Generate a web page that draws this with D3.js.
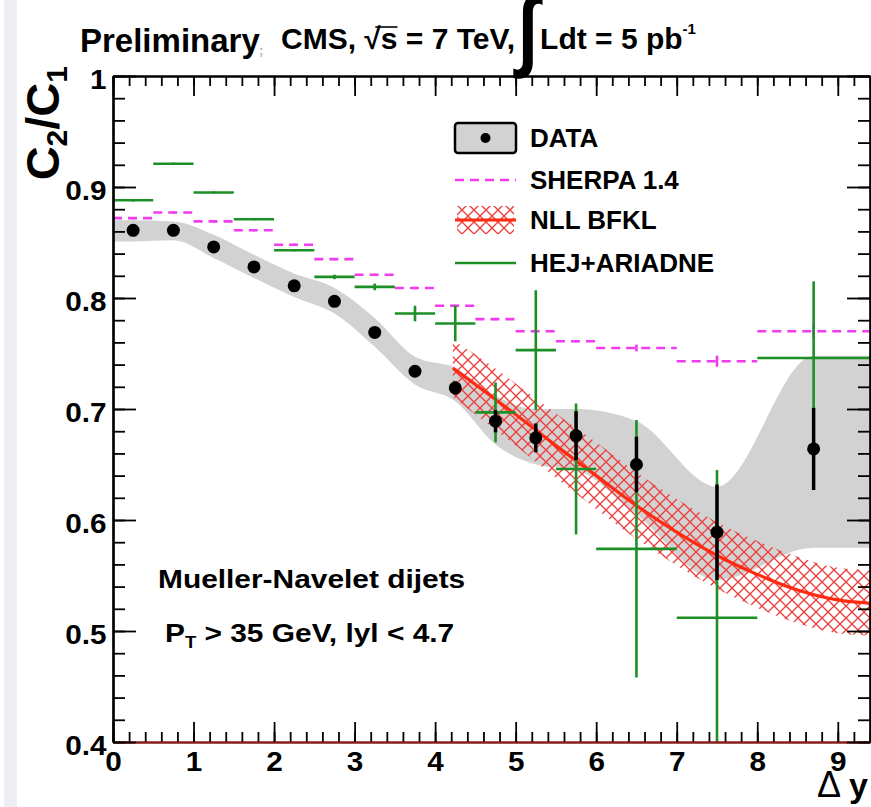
<!DOCTYPE html>
<html>
<head>
<meta charset="utf-8">
<script src="https://cdn.jsdelivr.net/npm/d3@7"></script>
<style>
body { margin: 0; background: #fff; }
text { font-family: 'Liberation Sans', Arial, Helvetica, sans-serif; font-weight: bold; }
</style>
</head>
<body>
<div id="playground"></div>
<script>
// --- Data

// Measured points: bin centres, values, stat errors, systematic band
var dataX = [0.25, 0.75, 1.25, 1.75, 2.25, 2.75, 3.25, 3.75, 4.25, 4.75, 5.25, 5.75, 6.5, 7.5, 8.7]
var dataY = [0.861, 0.861, 0.846, 0.828, 0.811, 0.797, 0.769, 0.734, 0.719, 0.689, 0.674, 0.676, 0.650, 0.589, 0.664]
var dataStat = [0.003, 0.003, 0.003, 0.003, 0.003, 0.004, 0.004, 0.005, 0.006, 0.010, 0.013, 0.022, 0.025, 0.043, 0.037]
var dataSysLo = [0.851, 0.852, 0.836, 0.818, 0.801, 0.786, 0.756, 0.722, 0.707, 0.668, 0.650, 0.645, 0.605, 0.546, 0.575]
var dataSysHi = [0.870, 0.869, 0.857, 0.839, 0.822, 0.809, 0.782, 0.747, 0.737, 0.712, 0.700, 0.700, 0.689, 0.630, 0.748]

// MC histograms share the binning
var binLo = [0, 0.5, 1, 1.5, 2, 2.5, 3, 3.5, 4, 4.5, 5, 5.5, 6, 7, 8]
var binHi = [0.5, 1, 1.5, 2, 2.5, 3, 3.5, 4, 4.5, 5, 5.5, 6, 7, 8, 9.4]
var sherpaY = [0.872, 0.877, 0.869, 0.861, 0.848, 0.835, 0.821, 0.809, 0.793, 0.781, 0.770, 0.761, 0.755, 0.743, 0.770]
var sherpaErr = [0.001, 0.001, 0.001, 0.001, 0.001, 0.001, 0.001, 0.001, 0.001, 0.001, 0.001, 0.001, 0.003, 0.005, 0.006]
var hejY = [0.888, 0.921, 0.895, 0.871, 0.843, 0.819, 0.810, 0.786, 0.777, 0.697, 0.753, 0.646, 0.574, 0.512, 0.746]
var hejErr = [0.001, 0.001, 0.001, 0.001, 0.001, 0.002, 0.003, 0.007, 0.016, 0.027, 0.054, 0.059, 0.116, 0.133, 0.069]

// NLL BFKL prediction: central curve and uncertainty band
var nllX = [4.22, 4.5, 5.0, 5.5, 6.0, 6.5, 7.0, 7.5, 8.0, 8.5, 9.0, 9.4]
var nllY = [0.737, 0.722, 0.695, 0.667, 0.640, 0.613, 0.589, 0.568, 0.551, 0.537, 0.528, 0.525]
var nllLo = [0.711, 0.695, 0.667, 0.638, 0.610, 0.583, 0.559, 0.538, 0.521, 0.507, 0.498, 0.496]
var nllHi = [0.762, 0.749, 0.723, 0.696, 0.670, 0.643, 0.619, 0.598, 0.581, 0.567, 0.557, 0.555]

// Axes
var xTicks = [0, 1, 2, 3, 4, 5, 6, 7, 8, 9]
var xTickLabels = ['0', '1', '2', '3', '4', '5', '6', '7', '8', '9']
var yTicks = [0.4, 0.5, 0.6, 0.7, 0.8, 0.9, 1]
var yTickLabels = ['0.4', '0.5', '0.6', '0.7', '0.8', '0.9', '1']

var legendLabels = ['DATA', 'SHERPA 1.4', 'NLL BFKL', 'HEJ+ARIADNE']

// --- Settings
var settings = {}
settings.width = 871
settings.height = 807
settings.left = 113
settings.right = 870
settings.top = 76
settings.bottom = 742

settings.grey_band = '#d2d2d2'
settings.sherpa_color = '#ee3cee'
settings.hej_color = '#1c8f26'
settings.nll_color = '#ff2a10'
settings.hatch_color = '#ee3b3b'

var svg = d3.select('#playground').append('svg')
	.attr('width', settings.width)
	.attr('height', settings.height)

svg.append('rect')
	.attr('width', settings.width)
	.attr('height', settings.height)
	.attr('fill', '#fff')

// light strip along the left edge of the scanned page
svg.append('rect')
	.attr('x', 4).attr('y', 0)
	.attr('width', 13).attr('height', settings.height)
	.attr('fill', '#eceef3')

var x = d3.scaleLinear().domain([0, 9.4]).range([settings.left, settings.right])
var y = d3.scaleLinear().domain([0.4, 1]).range([settings.bottom, settings.top])

var defs = svg.append('defs')
defs.append('clipPath').attr('id', 'plotclip')
	.append('rect')
	.attr('x', settings.left).attr('y', settings.top)
	.attr('width', settings.right - settings.left)
	.attr('height', settings.bottom - settings.top)

var hatch = defs.append('pattern')
	.attr('id', 'hatch')
	.attr('patternUnits', 'userSpaceOnUse')
	.attr('width', 12).attr('height', 12)
hatch.append('path')
	.attr('d', 'M0,0L12,12M12,0L0,12')
	.attr('stroke', settings.hatch_color)
	.attr('stroke-width', 1.3)
	.attr('fill', 'none')

var plot = svg.append('g').attr('clip-path', 'url(#plotclip)')

// Systematic band of the data, stretched to the frame edges
var bandPts = dataX.map(function(d, i){ return {x: d, lo: dataSysLo[i], hi: dataSysHi[i]} })
bandPts.unshift({x: x.domain()[0], lo: dataSysLo[0], hi: dataSysHi[0]})
bandPts.push({x: x.domain()[1], lo: dataSysLo[dataSysLo.length - 1], hi: dataSysHi[dataSysHi.length - 1]})

plot.append('path')
	.attr('d', d3.area()
		.x(function(d){ return x(d.x) })
		.y0(function(d){ return y(d.lo) })
		.y1(function(d){ return y(d.hi) })
		.curve(d3.curveMonotoneX)(bandPts))
	.attr('fill', settings.grey_band)

// NLL BFKL hatched band + curve
var nllPts = nllX.map(function(d, i){ return {x: d, y: nllY[i], lo: nllLo[i], hi: nllHi[i]} })
plot.append('path')
	.attr('d', d3.area()
		.x(function(d){ return x(d.x) })
		.y0(function(d){ return y(d.lo) })
		.y1(function(d){ return y(d.hi) })
		.curve(d3.curveMonotoneX)(nllPts))
	.attr('fill', 'url(#hatch)')
plot.append('path')
	.attr('d', d3.line()
		.x(function(d){ return x(d.x) })
		.y(function(d){ return y(d.y) })
		.curve(d3.curveMonotoneX)(nllPts))
	.attr('fill', 'none')
	.attr('stroke', settings.nll_color)
	.attr('stroke-width', 3.2)

// SHERPA: dashed histogram, one segment per bin
binLo.forEach(function(lo, i){
	var xc = (lo + binHi[i]) / 2
	plot.append('line')
		.attr('x1', x(lo)).attr('x2', x(binHi[i]))
		.attr('y1', y(sherpaY[i])).attr('y2', y(sherpaY[i]))
		.attr('stroke', settings.sherpa_color)
		.attr('stroke-width', 2.6)
		.attr('stroke-dasharray', '9,6')
	plot.append('line')
		.attr('x1', x(xc)).attr('x2', x(xc))
		.attr('y1', y(sherpaY[i] - sherpaErr[i])).attr('y2', y(sherpaY[i] + sherpaErr[i]))
		.attr('stroke', settings.sherpa_color)
		.attr('stroke-width', 2.6)
})

// HEJ+ARIADNE: solid bins with vertical errors
binLo.forEach(function(lo, i){
	var xc = (lo + binHi[i]) / 2
	plot.append('line')
		.attr('x1', x(lo)).attr('x2', x(binHi[i]))
		.attr('y1', y(hejY[i])).attr('y2', y(hejY[i]))
		.attr('stroke', settings.hej_color)
		.attr('stroke-width', 2.6)
	plot.append('line')
		.attr('x1', x(xc)).attr('x2', x(xc))
		.attr('y1', y(hejY[i] - hejErr[i])).attr('y2', y(hejY[i] + hejErr[i]))
		.attr('stroke', settings.hej_color)
		.attr('stroke-width', 2.6)
})

// Data points
dataX.forEach(function(d, i){
	plot.append('line')
		.attr('x1', x(d)).attr('x2', x(d))
		.attr('y1', y(dataY[i] - dataStat[i])).attr('y2', y(dataY[i] + dataStat[i]))
		.attr('stroke', '#000')
		.attr('stroke-width', 3.5)
	plot.append('circle')
		.attr('cx', x(d)).attr('cy', y(dataY[i]))
		.attr('r', 6.5)
		.attr('fill', '#000')
})

// --- Axes (ticks on all four sides, ROOT style)
var xMinor = d3.range(0, 9.41, 0.2)
var yMinor = d3.range(0.4, 1.001, 0.02)

function styleAxis(g, color){
	g.selectAll('.domain').attr('stroke', color || '#000').attr('stroke-width', 2.2)
	g.selectAll('.tick line').attr('stroke', '#000').attr('stroke-width', 1.8)
	g.selectAll('text')
		.attr('font-size', 27)
		.attr('font-family', "'Liberation Sans', Arial, sans-serif")
		.attr('font-weight', 'bold')
		.attr('fill', '#000')
}

var gx = svg.append('g').attr('transform', 'translate(0,' + settings.bottom + ')')
gx.call(d3.axisBottom(x).tickValues(xMinor).tickSize(-10).tickSizeOuter(0).tickFormat(''))
gx.call(styleAxis, '#8a1c1c')
var gxMajor = svg.append('g').attr('transform', 'translate(0,' + settings.bottom + ')')
gxMajor.call(d3.axisBottom(x).tickValues(xTicks).tickSize(-20).tickSizeOuter(0).tickPadding(10)
	.tickFormat(function(d, i){ return xTickLabels[i] }))
gxMajor.call(styleAxis, '#8a1c1c')
gxMajor.selectAll('text').attr('transform', 'scale(1.1,1)')

var gt = svg.append('g').attr('transform', 'translate(0,' + settings.top + ')')
gt.call(d3.axisTop(x).tickValues(xMinor).tickSize(-10).tickSizeOuter(0).tickFormat(''))
gt.call(styleAxis)
var gtMajor = svg.append('g').attr('transform', 'translate(0,' + settings.top + ')')
gtMajor.call(d3.axisTop(x).tickValues(xTicks).tickSize(-20).tickSizeOuter(0).tickFormat(''))
gtMajor.call(styleAxis)

var gy = svg.append('g').attr('transform', 'translate(' + settings.left + ',0)')
gy.call(d3.axisLeft(y).tickValues(yMinor).tickSize(-12).tickSizeOuter(0).tickFormat(''))
gy.call(styleAxis)
var gyMajor = svg.append('g').attr('transform', 'translate(' + settings.left + ',0)')
gyMajor.call(d3.axisLeft(y).tickValues(yTicks).tickSize(-23).tickSizeOuter(0).tickPadding(6)
	.tickFormat(function(d, i){ return yTickLabels[i] }))
gyMajor.call(styleAxis)
gyMajor.selectAll('text').attr('transform', 'scale(1.1,1)').attr('dy', '0.45em')

var gr = svg.append('g').attr('transform', 'translate(' + settings.right + ',0)')
gr.call(d3.axisRight(y).tickValues(yMinor).tickSize(-12).tickSizeOuter(0).tickFormat(''))
gr.call(styleAxis)
var grMajor = svg.append('g').attr('transform', 'translate(' + settings.right + ',0)')
grMajor.call(d3.axisRight(y).tickValues(yTicks).tickSize(-23).tickSizeOuter(0).tickFormat(''))
grMajor.call(styleAxis)

// --- Axis titles
var yTitle = svg.append('text')
	.attr('transform', 'translate(59,66) rotate(-90)')
	.attr('text-anchor', 'end')
	.attr('font-size', 47)
yTitle.append('tspan').text('C')
yTitle.append('tspan').attr('font-size', 30).attr('dy', 8).text('2')
yTitle.append('tspan').attr('dy', -8).text('/C')
yTitle.append('tspan').attr('font-size', 30).attr('dy', 8).text('1')

var xTitle = svg.append('text')
	.attr('x', 868).attr('y', 797)
	.attr('text-anchor', 'end')
	.attr('font-size', 34)
xTitle.append('tspan').attr('font-weight', 'normal').attr('font-size', 36).text('\u0394')
xTitle.append('tspan').attr('dx', 8).text('y')

// --- Header
svg.append('text')
	.attr('x', 80).attr('y', 52)
	.attr('font-size', 33)
	.text('Preliminary')
svg.append('text')
	.attr('x', 259).attr('y', 55)
	.attr('font-size', 13)
	.attr('fill', '#b0b0b0')
	.attr('font-weight', 'normal')
	.text(';')

var header = {x: 281, y: 49, size: 30}
var head1 = svg.append('text')
	.attr('x', header.x).attr('y', header.y)
	.attr('font-size', header.size)
head1.append('tspan').text('CMS, \u221A')
head1.append('tspan').text('s')
head1.append('tspan').text(' = 7 TeV,')

// bar over the s of sqrt(s)
var hn = head1.node()
var sIdx = 'CMS, \u221A'.length
var sx0 = hn.getStartPositionOfChar(sIdx - 1).x + 11
var sx1 = hn.getEndPositionOfChar(sIdx).x
svg.append('line')
	.attr('x1', sx0).attr('x2', sx1)
	.attr('y1', 27).attr('y2', 27)
	.attr('stroke', '#000').attr('stroke-width', 1.6)

// tall integral sign
var intX = header.x + hn.getComputedTextLength() + 3
svg.append('text')
	.attr('transform', 'translate(' + intX + ',' + (header.y + 10) + ') scale(1.5,1.85)')
	.attr('font-size', 48)
	.text('\u222B')

var head2 = svg.append('text')
	.attr('x', intX + 22).attr('y', header.y)
	.attr('font-size', header.size)
head2.append('tspan').text('Ldt = 5 pb')
head2.append('tspan').attr('font-size', 15).attr('dy', -15).text('-1')

// --- Legend
var legend = {x0: 455, x1: 516, textX: 530, rowY: [138, 180, 220, 263]}

legend.rowY.forEach(function(ry, i){
	svg.append('text')
		.attr('x', legend.textX).attr('y', ry + 9)
		.attr('font-size', 26)
		.text(legendLabels[i])
})

svg.append('rect')
	.attr('x', legend.x0).attr('y', legend.rowY[0] - 15)
	.attr('width', legend.x1 - legend.x0).attr('height', 30)
	.attr('rx', 3)
	.attr('fill', settings.grey_band)
	.attr('stroke', '#000').attr('stroke-width', 2.5)
svg.append('circle')
	.attr('cx', (legend.x0 + legend.x1) / 2).attr('cy', legend.rowY[0])
	.attr('r', 5).attr('fill', '#000')

svg.append('line')
	.attr('x1', legend.x0).attr('x2', legend.x1)
	.attr('y1', legend.rowY[1]).attr('y2', legend.rowY[1])
	.attr('stroke', settings.sherpa_color).attr('stroke-width', 2.6)
	.attr('stroke-dasharray', '9,6')

svg.append('rect')
	.attr('x', legend.x0 + 2).attr('y', legend.rowY[2] - 14)
	.attr('width', legend.x1 - legend.x0 - 4).attr('height', 28)
	.attr('fill', 'url(#hatch)')
svg.append('line')
	.attr('x1', legend.x0).attr('x2', legend.x1)
	.attr('y1', legend.rowY[2]).attr('y2', legend.rowY[2])
	.attr('stroke', settings.nll_color).attr('stroke-width', 3.2)

svg.append('line')
	.attr('x1', legend.x0).attr('x2', legend.x1)
	.attr('y1', legend.rowY[3]).attr('y2', legend.rowY[3])
	.attr('stroke', settings.hej_color).attr('stroke-width', 2.6)

// --- Selection text
svg.append('text')
	.attr('transform', 'translate(158,588) scale(1.15,1)')
	.attr('font-size', 26)
	.text('Mueller-Navelet dijets')

var cuts = svg.append('text')
	.attr('transform', 'translate(165,642) scale(1.15,1)')
	.attr('font-size', 26)
cuts.append('tspan').text('P')
cuts.append('tspan').attr('font-size', 16).attr('dy', 6).text('T')
cuts.append('tspan').attr('dy', -6).text(' > 35 GeV, lyl < 4.7')
</script>
</body>
</html>
